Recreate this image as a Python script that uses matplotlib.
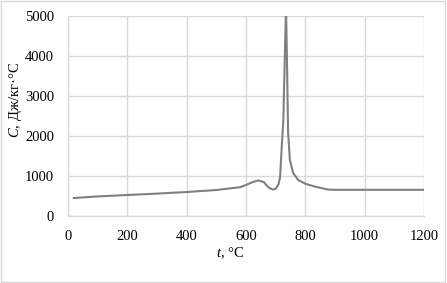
import matplotlib.pyplot as plt
from matplotlib.patches import Rectangle

# Temperature (deg C) and specific heat (J/kg·C)
temp = [20, 100, 200, 300, 400, 500, 580, 600, 620, 641, 660, 675, 690,
        700, 710, 715, 720, 726, 731, 735, 738, 742, 748, 759, 776, 802,
        838, 877, 900, 1000, 1200]
heat = [450, 490, 525, 560, 600, 650, 720, 775, 840, 890, 850, 720, 660,
        680, 800, 975, 1650, 2400, 4000, 5200, 4000, 2100, 1400, 1075, 900,
        800, 725, 660, 655, 655, 655]

x_ticks = [0, 200, 400, 600, 800, 1000, 1200]
y_ticks = [0, 1000, 2000, 3000, 4000, 5000]

plt.rcParams['font.family'] = 'Liberation Serif'
plt.rcParams['mathtext.fontset'] = 'custom'
plt.rcParams['mathtext.rm'] = 'Liberation Serif'
plt.rcParams['mathtext.it'] = 'Liberation Serif:italic'

grid_col = '#d9d9d9'

fig = plt.figure(figsize=(4.47, 2.83), dpi=100)
ax = fig.add_axes([0.152, 0.2367, 0.7965, 0.7068])

ax.plot(temp, heat, color='#808080', lw=1.5)

ax.set_xlim(0, 1200)
ax.set_ylim(0, 5000)
ax.set_xticks(x_ticks)
ax.set_yticks(y_ticks)
ax.tick_params(length=0, labelsize=10.5, colors='black')
ax.tick_params(axis='y', pad=10)
ax.tick_params(axis='x', pad=10)
ax.grid(True, color=grid_col, lw=1)
ax.set_axisbelow(True)

for side in ['top', 'right']:
    ax.spines[side].set_visible(False)
for side in ['left', 'bottom']:
    ax.spines[side].set_color(grid_col)
    ax.spines[side].set_linewidth(1)

# axis titles placed where the reference has them
fig.text(230 / 447, 1 - 253 / 283, r'$t$, °C', fontsize=10.5,
         ha='center', va='center')
fig.text(15 / 447, 1 - 100 / 283, r'$C$, Дж/кг·°С', fontsize=10.5,
         rotation=90, ha='center', va='center')

# light border round the whole chart
fig.patches.append(Rectangle((0.002, 0.003), 0.994, 0.993, transform=fig.transFigure,
                             fill=False, edgecolor=grid_col, lw=1))

fig.savefig('out.png', dpi=100)
